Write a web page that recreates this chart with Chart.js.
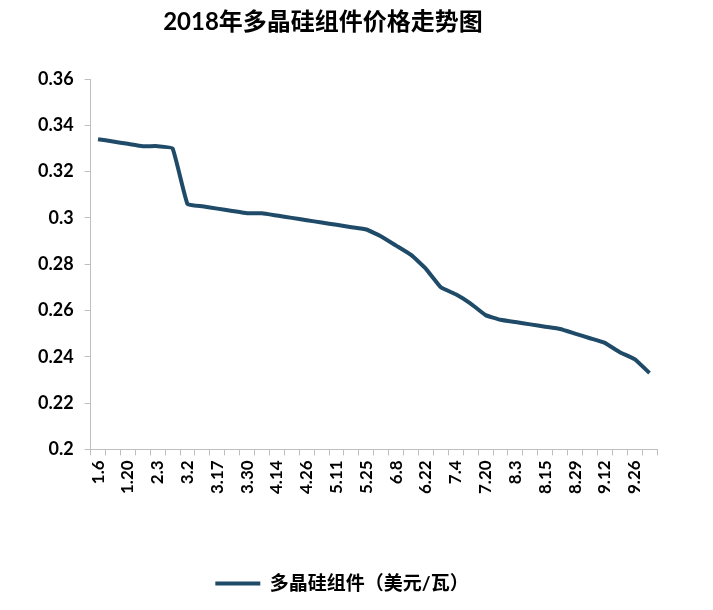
<!DOCTYPE html>
<html>
<head>
<meta charset="utf-8">
<script src="https://cdn.jsdelivr.net/npm/chart.js@4"></script>
<style>
  body { margin: 0; background: #fff; }
  #wrap { width: 713px; height: 610px; }
</style>
</head>
<body>
<div id="wrap"><canvas id="canvas"></canvas></div>
<script>
// chart text
let chartTitle = '2018年多晶硅组件价格走势图';
let seriesName = '多晶硅组件（美元/瓦）';

// weekly quote dates (only every other one is printed on the axis)
let labels = ['1.6', '1.13', '1.20', '1.27', '2.3', '2.10', '3.2', '3.9', '3.17', '3.23',
  '3.30', '4.8', '4.14', '4.20', '4.26', '5.4', '5.11', '5.18', '5.25', '6.1',
  '6.8', '6.15', '6.22', '6.29', '7.4', '7.13', '7.20', '7.27', '8.3', '8.9',
  '8.15', '8.22', '8.29', '9.5', '9.12', '9.19', '9.26', '10.10'];

// price, USD per watt
let prices = [0.334, 0.333, 0.332, 0.331, 0.331, 0.330, 0.306, 0.305, 0.304, 0.303,
  0.302, 0.302, 0.301, 0.300, 0.299, 0.298, 0.297, 0.296, 0.295, 0.292,
  0.288, 0.284, 0.278, 0.270, 0.267, 0.263, 0.258, 0.256, 0.255, 0.254,
  0.253, 0.252, 0.250, 0.248, 0.246, 0.242, 0.239, 0.233];

// y axis range
let yMin = 0.2;
let yMax = 0.36;
let yStep = 0.02;

let fontFamily = 'Lato, "Noto Sans CJK SC", sans-serif';
let axisColor = '#bfbfbf';
let lineColor = '#1f4b68';

// title drawn at a fixed spot, a bit left of centre like the original
let titlePlugin = {
  id: 'topTitle',
  afterDraw(chart) {
    let ctx = chart.ctx;
    ctx.save();
    ctx.font = 'bold 24px ' + fontFamily;
    ctx.fillStyle = '#000';
    ctx.textAlign = 'center';
    ctx.textBaseline = 'middle';
    ctx.fillText(chartTitle, 323, 22);
    ctx.restore();
  }
};

let options = {
  type: 'line',
  data: {
    labels: labels,
    datasets: [{
      label: seriesName,
      data: prices,
      fill: false,
      borderColor: lineColor,
      backgroundColor: lineColor,
      borderWidth: 4,
      pointRadius: 0,
      pointHoverRadius: 0,
      pointStyle: 'line',
      tension: 0.1
    }]
  },
  options: {
    responsive: true,
    maintainAspectRatio: false,
    animation: false,
    layout: {
      padding: { top: 79, left: 27, right: 56, bottom: 7 }
    },
    plugins: {
      tooltip: { enabled: false },
      legend: {
        position: 'bottom',
        labels: {
          usePointStyle: true,
          pointStyleWidth: 45,
          color: '#000',
          padding: 10,
          font: { family: fontFamily, size: 19, weight: 'bold' }
        }
      }
    },
    scales: {
      x: {
        offset: true,
        grid: {
          drawOnChartArea: false,
          offset: true,
          color: axisColor,
          tickLength: 6
        },
        border: { color: axisColor, width: 1 },
        ticks: {
          autoSkip: false,
          minRotation: 90,
          maxRotation: 90,
          padding: 5,
          color: '#000',
          font: { family: fontFamily, size: 17, weight: 'bold' },
          callback: function (value, index) {
            return index % 2 === 0 ? labels[index] : '';
          }
        },
        afterFit: function (axis) {
          axis.height += 65;
        }
      },
      y: {
        min: yMin,
        max: yMax,
        grid: {
          drawOnChartArea: false,
          color: axisColor,
          tickLength: 6
        },
        border: { color: axisColor, width: 1 },
        ticks: {
          stepSize: yStep,
          padding: 11,
          color: '#000',
          font: { family: fontFamily, size: 18, weight: 'bold' },
          callback: function (value) {
            return String(Number(value.toFixed(2)));
          }
        }
      }
    }
  },
  plugins: [titlePlugin]
};

let chart = new Chart(document.getElementById('canvas'), options);
</script>
</body>
</html>
